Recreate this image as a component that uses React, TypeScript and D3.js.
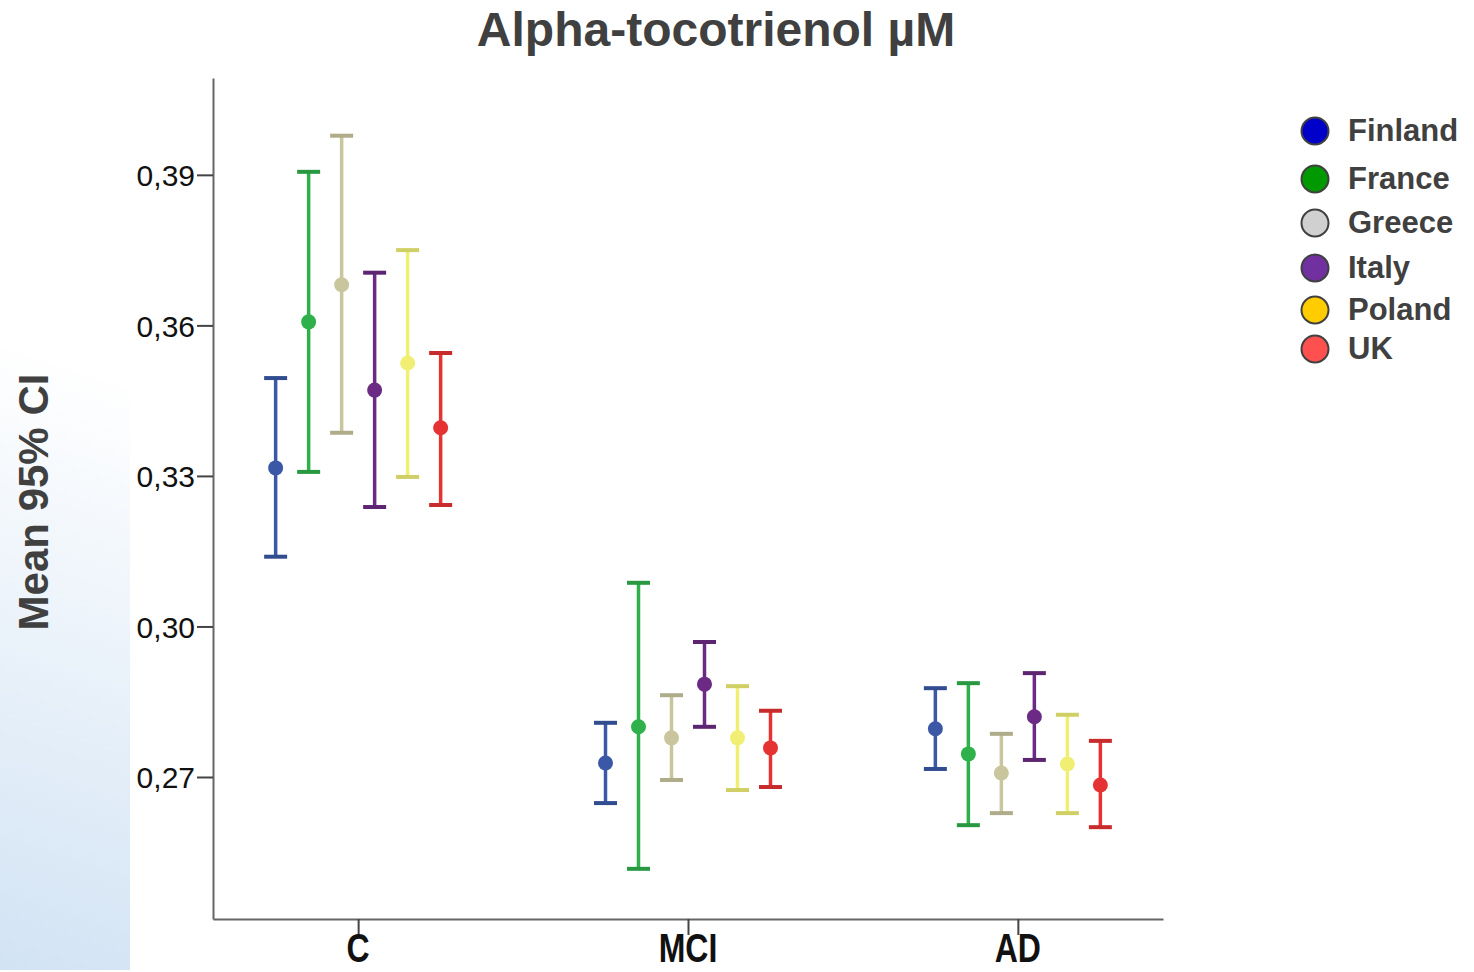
import { useEffect, useRef } from "react";
import * as d3 from "d3";

const groups = ["C", "MCI", "AD"];
const countries = ["Finland", "France", "Greece", "Italy", "Poland", "UK"];

// rows = countries, columns = groups (C, MCI, AD)
const meanValues = [
  [0.3316, 0.2728, 0.2796],
  [0.3607, 0.28, 0.2746],
  [0.3681, 0.2778, 0.2708],
  [0.3471, 0.2885, 0.282],
  [0.3525, 0.2778, 0.2726],
  [0.3396, 0.2758, 0.2684],
];
const lowerValues = [
  [0.3139, 0.2648, 0.2716],
  [0.3308, 0.2517, 0.2604],
  [0.3386, 0.2694, 0.2628],
  [0.3238, 0.28, 0.2734],
  [0.3298, 0.2674, 0.2628],
  [0.3242, 0.268, 0.26],
];
const upperValues = [
  [0.3495, 0.2808, 0.2877],
  [0.3906, 0.3087, 0.2887],
  [0.3978, 0.2863, 0.2786],
  [0.3705, 0.2969, 0.2907],
  [0.375, 0.2881, 0.2824],
  [0.3545, 0.2832, 0.2772],
];

const yTicks = [0.27, 0.3, 0.33, 0.36, 0.39];
const markColors = ["#3a58a6", "#2eb14b", "#c9c69e", "#6b2a83", "#f0ef74", "#e53232"];
const legendColors = ["#0000c8", "#009a00", "#d0d0d0", "#7030a0", "#ffcc00", "#ff5050"];

export default function App() {
  const ref = useRef<HTMLDivElement>(null);

  useEffect(() => {
    d3.select(ref.current).selectAll("*").remove();

    const width = 1474;
    const height = 972;
    const font = "Arial, 'Liberation Sans', Helvetica, sans-serif";

    const svg = d3
      .select(ref.current)
      .append("svg")
      .attr("width", width)
      .attr("height", height)
      .style("position", "absolute")
      .style("left", "0px")
      .style("top", "0px")
      .style("background", "#fff");

    // light blue panel on the left
    const grad = svg
      .append("defs")
      .append("linearGradient")
      .attr("id", "side")
      .attr("gradientUnits", "userSpaceOnUse")
      .attr("x1", 0)
      .attr("y1", 970)
      .attr("x2", 190)
      .attr("y2", 400);
    grad.append("stop").attr("offset", "0%").attr("stop-color", "#d2e3f4");
    grad.append("stop").attr("offset", "100%").attr("stop-color", "#ffffff");
    svg.append("rect").attr("x", 0).attr("y", 0).attr("width", 130).attr("height", 970).attr("fill", "url(#side)");

    const x = d3.scalePoint().domain(groups).range([213, 1163]).padding(0.44);
    const offset = d3.scalePoint().domain(countries).range([-82.5, 82.5]);
    const y = d3.scaleLinear().domain([0.2417, 0.4093]).range([919, 78]);

    // y axis
    const yAxis = svg
      .append("g")
      .attr("transform", "translate(213,0)")
      .call(
        d3
          .axisLeft(y)
          .tickValues(yTicks)
          .tickSize(16)
          .tickSizeOuter(0)
          .tickFormat((d) => d3.format(".2f")(d as number).replace(".", ","))
      );
    yAxis.select(".domain").attr("stroke", "#666").attr("stroke-width", 2);
    yAxis.selectAll(".tick line").attr("stroke", "#444").attr("stroke-width", 2);
    yAxis
      .selectAll(".tick text")
      .attr("x", -18)
      .attr("dy", "0.36em")
      .attr("font-family", font)
      .attr("font-size", 30)
      .attr("fill", "#111");

    // x axis
    const xAxis = svg
      .append("g")
      .attr("transform", "translate(0,919)")
      .call(d3.axisBottom(x).tickSize(16).tickSizeOuter(0).tickFormat(() => ""));
    xAxis.select(".domain").attr("stroke", "#666").attr("stroke-width", 2);
    xAxis.selectAll(".tick line").attr("stroke", "#444").attr("stroke-width", 2);

    svg
      .append("g")
      .selectAll("text")
      .data(groups)
      .enter()
      .append("text")
      .attr("transform", (d) => `translate(${x(d)},962) scale(0.8,1)`)
      .attr("text-anchor", "middle")
      .attr("font-family", font)
      .attr("font-weight", "bold")
      .attr("font-size", 40)
      .attr("fill", "#111")
      .text((d) => d);

    // error bars
    const bars = countries.flatMap((c, i) =>
      groups.map((g, j) => ({
        country: c,
        color: markColors[i],
        cx: (x(g) as number) + (offset(c) as number),
        mean: meanValues[i][j],
        lo: lowerValues[i][j],
        hi: upperValues[i][j],
      }))
    );

    const bar = svg.append("g").selectAll("g").data(bars).enter().append("g");
    bar
      .append("line")
      .attr("x1", (d) => d.cx)
      .attr("x2", (d) => d.cx)
      .attr("y1", (d) => y(d.lo))
      .attr("y2", (d) => y(d.hi))
      .attr("stroke", (d) => d.color)
      .attr("stroke-width", 3.5);
    bar
      .selectAll("line.cap")
      .data((d) => [
        { cx: d.cx, v: d.lo, color: d.color },
        { cx: d.cx, v: d.hi, color: d.color },
      ])
      .enter()
      .append("line")
      .attr("class", "cap")
      .attr("x1", (d) => d.cx - 11.5)
      .attr("x2", (d) => d.cx + 11.5)
      .attr("y1", (d) => y(d.v))
      .attr("y2", (d) => y(d.v))
      .attr("stroke", (d) => d3.color(d.color)!.darker(0.4).toString())
      .attr("stroke-width", 4);
    bar
      .append("circle")
      .attr("cx", (d) => d.cx)
      .attr("cy", (d) => y(d.mean))
      .attr("r", 7.5)
      .attr("fill", (d) => d.color);

    // title
    svg
      .append("text")
      .attr("x", 716)
      .attr("y", 46)
      .attr("text-anchor", "middle")
      .attr("font-family", font)
      .attr("font-weight", "bold")
      .attr("font-size", 48)
      .attr("fill", "#404040")
      .text("Alpha-tocotrienol µM");

    // y label
    svg
      .append("text")
      .attr("transform", "translate(48,502) rotate(-90)")
      .attr("text-anchor", "middle")
      .attr("font-family", font)
      .attr("font-weight", "bold")
      .attr("font-size", 42)
      .attr("fill", "#404040")
      .text("Mean 95% CI");

    // legend
    const legendY = [131, 179, 223, 268, 310, 349];
    const legend = svg
      .append("g")
      .selectAll("g")
      .data(countries)
      .enter()
      .append("g")
      .attr("transform", (_d, i) => `translate(1315,${legendY[i]})`);
    legend
      .append("circle")
      .attr("r", 13.5)
      .attr("fill", (_d, i) => legendColors[i])
      .attr("stroke", "#404040")
      .attr("stroke-width", 2);
    legend
      .append("text")
      .attr("x", 33)
      .attr("y", 10)
      .attr("font-family", font)
      .attr("font-weight", "bold")
      .attr("font-size", 31)
      .attr("fill", "#404040")
      .text((d) => d);
  }, []);

  return <div ref={ref} />;
}
